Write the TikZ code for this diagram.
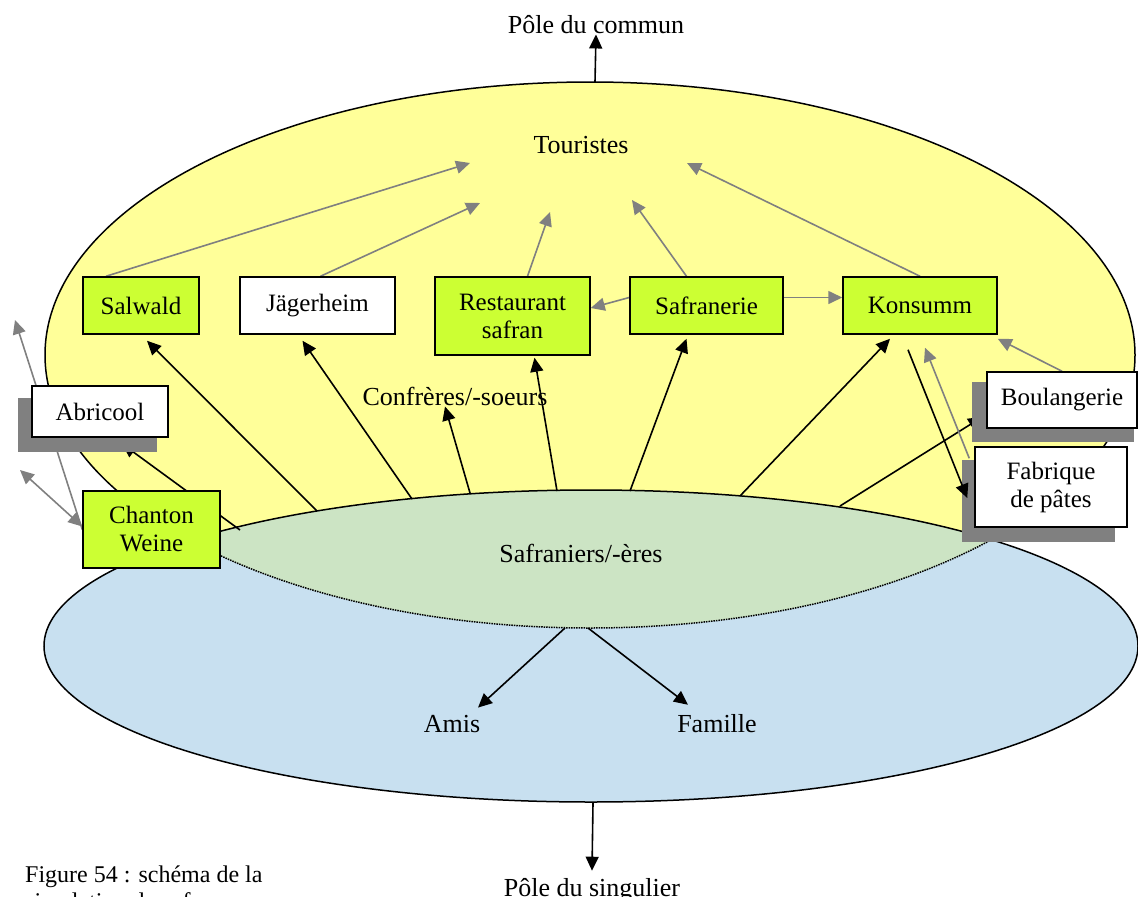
\documentclass[tikz,border=0pt]{standalone}
\usepackage{fontspec}
\setmainfont{Liberation Serif}
\usetikzlibrary{arrows.meta}
\definecolor{ellyellow}{RGB}{255,255,153}
\definecolor{ellblue}{RGB}{200,224,240}
\definecolor{ellgreen}{RGB}{204,228,196}
\definecolor{boxgreen}{RGB}{204,255,51}
\definecolor{arrgray}{RGB}{128,128,128}
\definecolor{shadgray}{RGB}{128,128,128}
\begin{document}
\begin{tikzpicture}[x=1pt,y=-1pt,
  box/.style={draw=black, line width=1.5pt, rectangle, inner sep=0pt, align=center, font=\fontsize{25}{28}\selectfont},
  gbox/.style={box, fill=boxgreen},
  wbox/.style={box, fill=white},
  lbl/.style={font=\fontsize{26}{30}\selectfont, inner sep=1pt},
  captext/.style={font=\fontsize{24}{27}\selectfont, inner sep=0pt},
  blk/.style={draw=black, line width=1.6pt, -{Triangle[length=14pt,width=13pt]}},
  gry/.style={draw=arrgray, line width=1.6pt, -{Triangle[length=14pt,width=13pt]}},
  gry2/.style={draw=arrgray, line width=1.6pt, {Triangle[length=14pt,width=13pt]}-{Triangle[length=14pt,width=13pt]}},
  shad/.style={fill=shadgray},
]
\useasboundingbox (0,0) rectangle (1138,897);

% ellipses
\fill[ellyellow] (590,355) ellipse [x radius=545pt, y radius=273pt];
\draw[line width=1.5pt] (590,355) ellipse [x radius=545pt, y radius=273pt];
\fill[ellblue] (591,646) ellipse [x radius=547pt, y radius=156pt];
\begin{scope}
  \clip (590,355) ellipse [x radius=545pt, y radius=273pt];
  \fill[ellgreen] (591,646) ellipse [x radius=547pt, y radius=156pt];
\end{scope}
\begin{scope}
  \clip (591,646) ellipse [x radius=547pt, y radius=156pt];
  \draw[line width=1.5pt, densely dotted] (590,355) ellipse [x radius=545pt, y radius=273pt];
\end{scope}
\draw[line width=1.5pt] (591,646) ellipse [x radius=547pt, y radius=156pt];

% texts
\node[lbl, anchor=base] (commun) at (596,33) {Pôle du commun};
\node[lbl, anchor=base] (tour) at (581,153) {Touristes};
\node[lbl, anchor=base] (conf) at (455,405) {Confrères/-soeurs};
\node[lbl, anchor=base] (safr) at (581,562) {Safraniers/-ères};
\node[lbl, anchor=base] (amis) at (452,732) {Amis};
\node[lbl, anchor=base] (fam) at (717,732) {Famille};
\node[lbl, anchor=base] (sing) at (592,896) {Pôle du singulier};
\node[captext, anchor=base west] (cap1) at (25,882) {Figure 54 : schéma de la};
\node[captext, anchor=base west] (cap2) at (25,909) {simulation du safran};

\coordinate (ytop) at (595,82);
\coordinate (ybot) at (593,803);
\coordinate (e1) at (317,511);
\coordinate (e2) at (412,499);
\coordinate (e3) at (470,493);
\coordinate (e4) at (557,491);
\coordinate (e5) at (630,491);
\coordinate (e6) at (740,496);
\coordinate (e7) at (840,506);
\coordinate (e8) at (240,530);
\coordinate (d1) at (565,628);
\coordinate (d2) at (588,628);
\coordinate (t1) at (470,163);
\coordinate (t2) at (480,203);
\coordinate (t3) at (550,212);
\coordinate (t4) at (632,200);
\coordinate (t5) at (687,163);
\coordinate (g1) at (15,320);
\coordinate (g2) at (20,470);

% invisible placement of boxes for anchors
\path
  (141,305.5) node[gbox, minimum width=116pt, minimum height=57pt, draw=none, fill=none] (salwald) {}
  (317.5,305.5) node[wbox, minimum width=155pt, minimum height=57pt, draw=none, fill=none] (jager) {}
  (512.5,316) node[gbox, minimum width=155pt, minimum height=78pt, draw=none, fill=none] (resto) {}
  (706.5,305.5) node[gbox, minimum width=153pt, minimum height=57pt, draw=none, fill=none] (safranerie) {}
  (920,305.5) node[gbox, minimum width=154pt, minimum height=57pt, draw=none, fill=none] (konsumm) {}
  (100,411.5) node[wbox, minimum width=136pt, minimum height=51pt, draw=none, fill=none] (abricool) {}
  (151.5,529.5) node[gbox, minimum width=137pt, minimum height=77pt, draw=none, fill=none] (chanton) {}
  (1062,400) node[wbox, minimum width=150pt, minimum height=56pt, draw=none, fill=none] (boul) {}
  (1051,487) node[wbox, minimum width=152pt, minimum height=80pt, draw=none, fill=none] (fab) {};

% connectors behind boxes
\draw[blk] (ytop) -- (commun.south);
\draw[blk] (ybot) -- ([yshift=6pt]sing.north);
\draw[blk] (d1) -- ([xshift=26pt,yshift=6pt]amis.north);
\draw[blk] (d2) -- ([xshift=-29pt,yshift=8pt]fam.north);
\draw[blk] (e1) -- ([xshift=6pt,yshift=-6pt]salwald.south);
\draw[blk] (e2) -- ([xshift=-15pt,yshift=-6pt]jager.south);
\draw[blk] (e3) -- ([xshift=-10pt]conf.south);
\draw[blk] (e4) -- ([xshift=22pt,yshift=-2pt]resto.south);
\draw[blk] (e5) -- ([xshift=-20pt,yshift=-4pt]safranerie.south);
\draw[blk] (e6) -- ([xshift=-30pt,yshift=-4pt]konsumm.south);
\draw[blk] (e7) -- ([xshift=-4pt,yshift=-17pt]boul.west);
\draw[blk] (e8) -- ([xshift=22pt,yshift=-6pt]abricool.south);
\draw[gry] ([xshift=-35pt]salwald.north) -- (t1);
\draw[gry] ([xshift=3pt]jager.north) -- (t2);
\draw[gry] ([xshift=15pt]resto.north) -- (t3);
\draw[gry] ([xshift=-20pt]safranerie.north) -- (t4);
\draw[gry] (konsumm.north) -- (t5);
\draw[gry] ([yshift=8pt]safranerie.west) -- ([yshift=8pt]resto.east);
\draw[gry] ([yshift=8pt]safranerie.east) -- ([yshift=8pt]konsumm.west);
\draw[gry] (boul.north) -- ([yshift=-4pt]konsumm.south east);
\draw[gry] ([xshift=-5pt,yshift=-12pt]fab.north west) -- ([xshift=5pt,yshift=-13pt]konsumm.south);
\draw[gry] (chanton.west) -- (g1);
\draw[gry2] (g2) -- ([yshift=3pt]chanton.west);

% shadows
\fill[shad] (18,398) rectangle (157,452);
\fill[shad] (972,382) rectangle (1134,442);
\fill[shad] (962,460) rectangle (1115,542);

% boxes
\node[gbox, minimum width=116pt, minimum height=57pt] at (salwald) {Salwald};
\node[wbox, minimum width=155pt, minimum height=57pt] at (jager) {Jägerheim};
\node[gbox, minimum width=155pt, minimum height=78pt] at (resto) {Restaurant\\safran};
\node[gbox, minimum width=153pt, minimum height=57pt] at (safranerie) {Safranerie};
\node[gbox, minimum width=154pt, minimum height=57pt] at (konsumm) {Konsumm};
\node[wbox, minimum width=136pt, minimum height=51pt] at (abricool) {Abricool};
\node[gbox, minimum width=137pt, minimum height=77pt] at (chanton) {Chanton\\Weine};
\node[wbox, minimum width=150pt, minimum height=56pt] at (boul) {Boulangerie};
\node[wbox, minimum width=152pt, minimum height=80pt] at (fab) {Fabrique\\de pâtes};

% connector on top
\draw[blk] ([xshift=-12pt,yshift=-15pt]konsumm.south) -- ([xshift=-7pt,yshift=-11pt]fab.west);
\end{tikzpicture}
\end{document}
